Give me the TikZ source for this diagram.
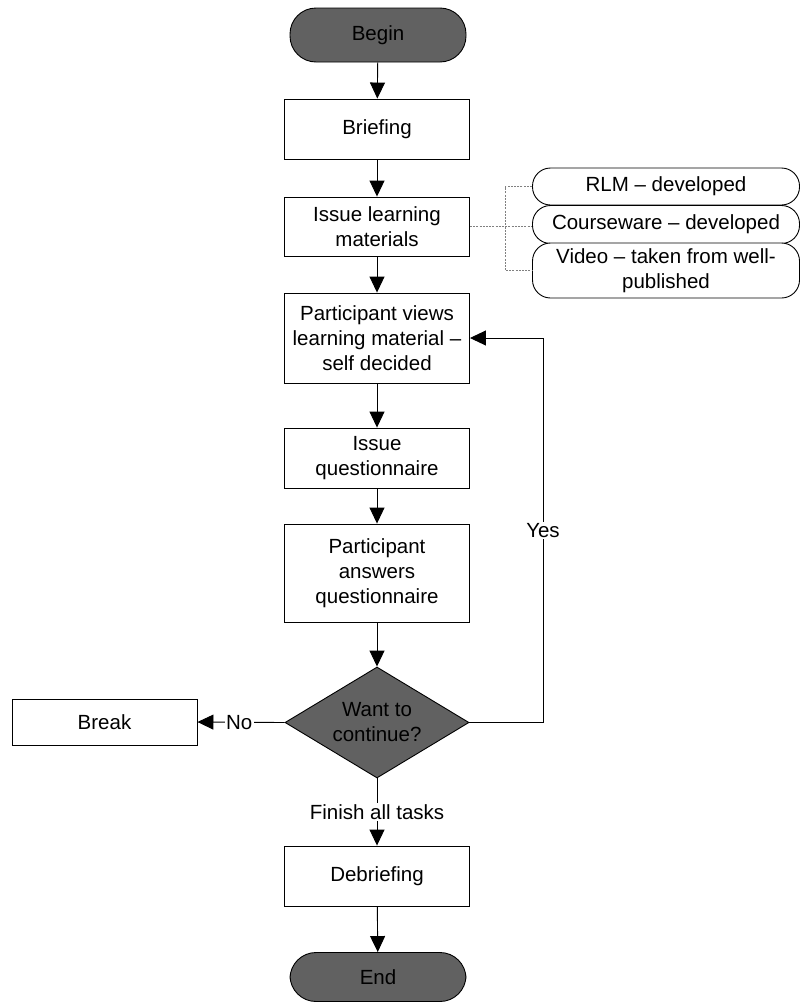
\documentclass[tikz,border=0pt]{standalone}
\usepackage{fontspec}
\setmainfont{Liberation Sans}
\usetikzlibrary{shapes.geometric,arrows.meta}
\newcommand{\fs}{\fontsize{20.5}{25}\selectfont}
\definecolor{termfill}{gray}{0.38}
\tikzset{
  box/.style={draw, line width=0.9pt, fill=white, minimum width=185pt, align=center, font=\fs, inner sep=2pt},
  term/.style={draw, line width=0.9pt, rounded corners=26pt, fill=termfill, minimum width=176pt, font=\fs, inner sep=0pt},
  decide/.style={draw, line width=0.9pt, diamond, aspect=1.66, fill=termfill, minimum width=184pt, minimum height=111pt, inner sep=0pt, align=center, font=\fs},
  media/.style={draw, line width=0.9pt, rounded corners=18pt, fill=white, minimum width=267pt, align=center, font=\fs, inner sep=1pt},
  arr/.style={line width=0.9pt, -{Triangle[length=16pt,width=15pt]}},
  dotlink/.style={gray, line width=0.7pt, dash pattern=on 2pt off 1.2pt},
  lbl/.style={fill=white, font=\fs, inner sep=1.5pt}
}
\begin{document}
\begin{tikzpicture}[x=1pt, y=-1pt]
\useasboundingbox (0,0) rectangle (802,1004);

% main column
\node[term, minimum height=54pt] (begin) at (378,35) {Begin};
\node[box, minimum height=60pt] (brief) at (377,129) {Briefing};
\node[box, minimum height=59pt] (issue) at (377,226.5) {Issue learning\\materials};
\node[box, minimum height=90pt] (view) at (377,338) {Participant views\\learning material --\\self decided};
\node[box, minimum height=60pt] (quest) at (377,458) {Issue\\questionnaire};
\node[box, minimum height=98pt] (answer) at (377,573) {Participant\\answers\\questionnaire};
\node[decide] (cont) at (377,722.5) {Want to\\continue?};
\node[box, minimum height=60pt] (debrief) at (377,876) {Debriefing};
\node[term, minimum height=49pt] (end) at (378,977) {End};

% side branch
\node[box, minimum width=185pt, minimum height=46pt] (break) at (104.5,722) {Break};

% learning materials
\node[media, minimum height=37pt] (rlm) at (666,186.5) {RLM -- developed};
\node[media, minimum height=38pt] (course) at (666,224.5) {Courseware -- developed};
\node[media, minimum height=55pt] (video) at (666,270.5) {Video -- taken from well-\\published};

% flow
\draw[arr] (begin) -- (brief);
\draw[arr] (brief) -- (issue);
\draw[arr] (issue) -- (view);
\draw[arr] (view) -- (quest);
\draw[arr] (quest) -- (answer);
\draw[arr] (answer) -- (cont);
\draw[arr] (cont) -- node[lbl, pos=0.5] {Finish all tasks} (debrief);
\draw[arr] (debrief) -- (end);
\draw[arr] (cont.west) -- node[lbl, pos=0.52] {No} (break.east);

\coordinate (loop) at (543,722.5);
\draw[arr] (cont.east) -- (loop) -- node[lbl, pos=0.5] {Yes} (loop |- view.east) -- (view.east);

% dotted bracket to the materials
\coordinate (bk) at (505,226.5);
\draw[dotlink] (issue.east) -- (issue.east -| course.west);
\draw[dotlink] (rlm.west) -- (bk |- rlm.west) -- (bk |- video.west) -- (video.west);
\end{tikzpicture}
\end{document}
